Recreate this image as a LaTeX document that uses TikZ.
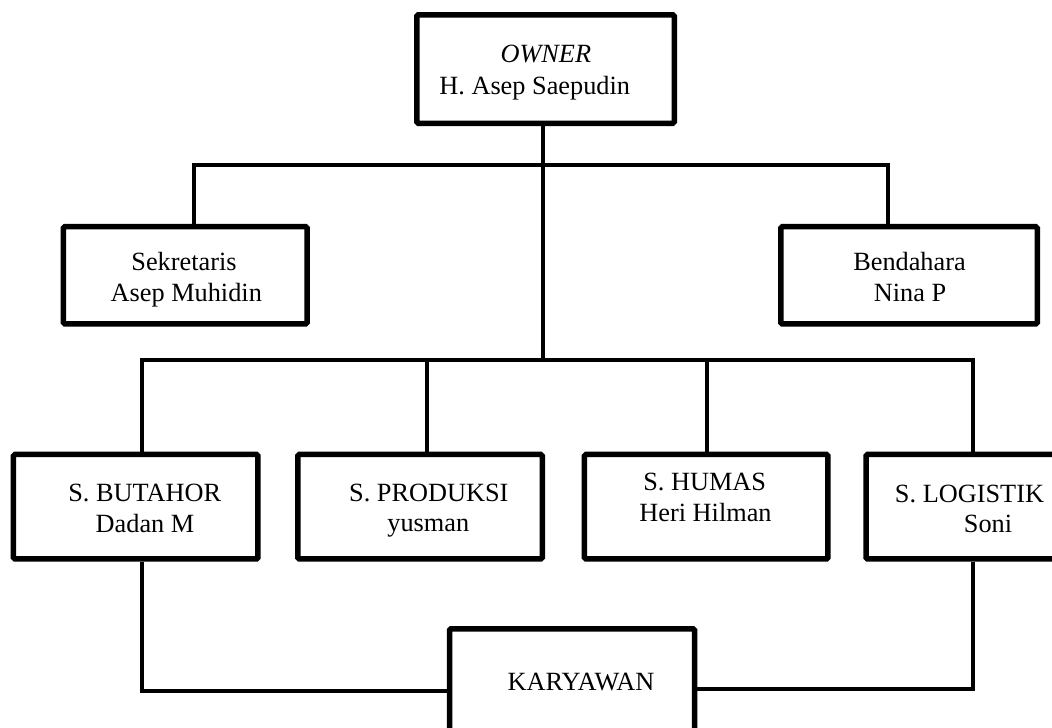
\documentclass[tikz,border=0pt]{standalone}
\usepackage{fontspec}
\setmainfont{Liberation Serif}
\begin{document}
\begin{tikzpicture}[x=1pt,y=-1pt,
  box/.style={draw, line width=5.5pt, fill=white, rounded corners=1.5pt, inner sep=0pt},
  conn/.style={line width=4pt},
  lbl/.style={anchor=base, inner sep=0pt, font=\fontsize{26.3}{30}\selectfont}]
\useasboundingbox (0,0) rectangle (1052,728);
\clip (0,0) rectangle (1052,728);
\fill[white] (0,0) rectangle (1052,728);

% boxes
\node[box, minimum width=257.5pt, minimum height=108.5pt] (own) at (545.5,69) {};
\node[box, minimum width=243.8pt, minimum height=97.2pt] (sek) at (185.3,275.3) {};
\node[box, minimum width=256.5pt, minimum height=97.2pt] (ben) at (909,275.3) {};
\node[box, minimum width=244.5pt, minimum height=104.5pt] (but) at (135.7,506.7) {};
\node[box, minimum width=244.5pt, minimum height=104.5pt] (pro) at (420,506.7) {};
\node[box, minimum width=243.5pt, minimum height=104.5pt] (hum) at (706.2,506.7) {};
\node[box, minimum width=214pt, minimum height=104.5pt] (log) at (973,506.7) {};
\node[box, minimum width=245pt, minimum height=130pt] (kar) at (572,693.75) {};

% connector points
\coordinate (b1l) at (194,165);
\coordinate (b1r) at (888,165);
\coordinate (ov) at (543,360);
\coordinate (b2l) at (141.7,360);
\coordinate (b2p) at (426.7,360);
\coordinate (b2h) at (706.7,360);
\coordinate (b2r) at (972.7,360);
\coordinate (kl) at (141.7,690.7);
\coordinate (kr) at (972.7,689);

% connectors
\draw[conn] (b1l |- sek.north) -- (b1l) -- (b1r) -- (b1r |- ben.north);
\draw[conn] (ov |- own.south) -- (ov);
\draw[conn] (b2l |- but.north) -- (b2l) -- (b2r) -- (b2r |- log.north);
\draw[conn] (b2p) -- (b2p |- pro.north);
\draw[conn] (b2h) -- (b2h |- hum.north);
\draw[conn] (kl |- but.south) -- (kl) -- (kl -| kar.west);
\draw[conn] (kr |- log.south) -- (kr) -- (kr -| kar.east);

% labels
\node[lbl] (t1) at (545.8,62.3) {\textit{OWNER}};
\node[lbl] (t2) at (534.7,94.3) {H. Asep Saepudin};
\node[lbl] (t3) at (184,270.7) {Sekretaris};
\node[lbl] (t4) at (186.3,301.7) {Asep Muhidin};
\node[lbl] (t5) at (909.5,270.7) {Bendahara};
\node[lbl] (t6) at (910,301.7) {Nina P};
\node[lbl] (t7) at (144.7,501.7) {S. BUTAHOR};
\node[lbl] (t8) at (145,532.7) {Dadan M};
\node[lbl] (t9) at (428.8,501.7) {S. PRODUKSI};
\node[lbl] (t10) at (428.3,531.7) {yusman};
\node[lbl] (t11) at (704.7,490.7) {S. HUMAS};
\node[lbl] (t12) at (705.5,521) {Heri Hilman};
\node[lbl] (t13) at (969.5,502.7) {S. LOGISTIK};
\node[lbl] (t14) at (988,532.7) {Soni};
\node[lbl] (t15) at (581,690.7) {KARYAWAN};
\end{tikzpicture}
\end{document}
